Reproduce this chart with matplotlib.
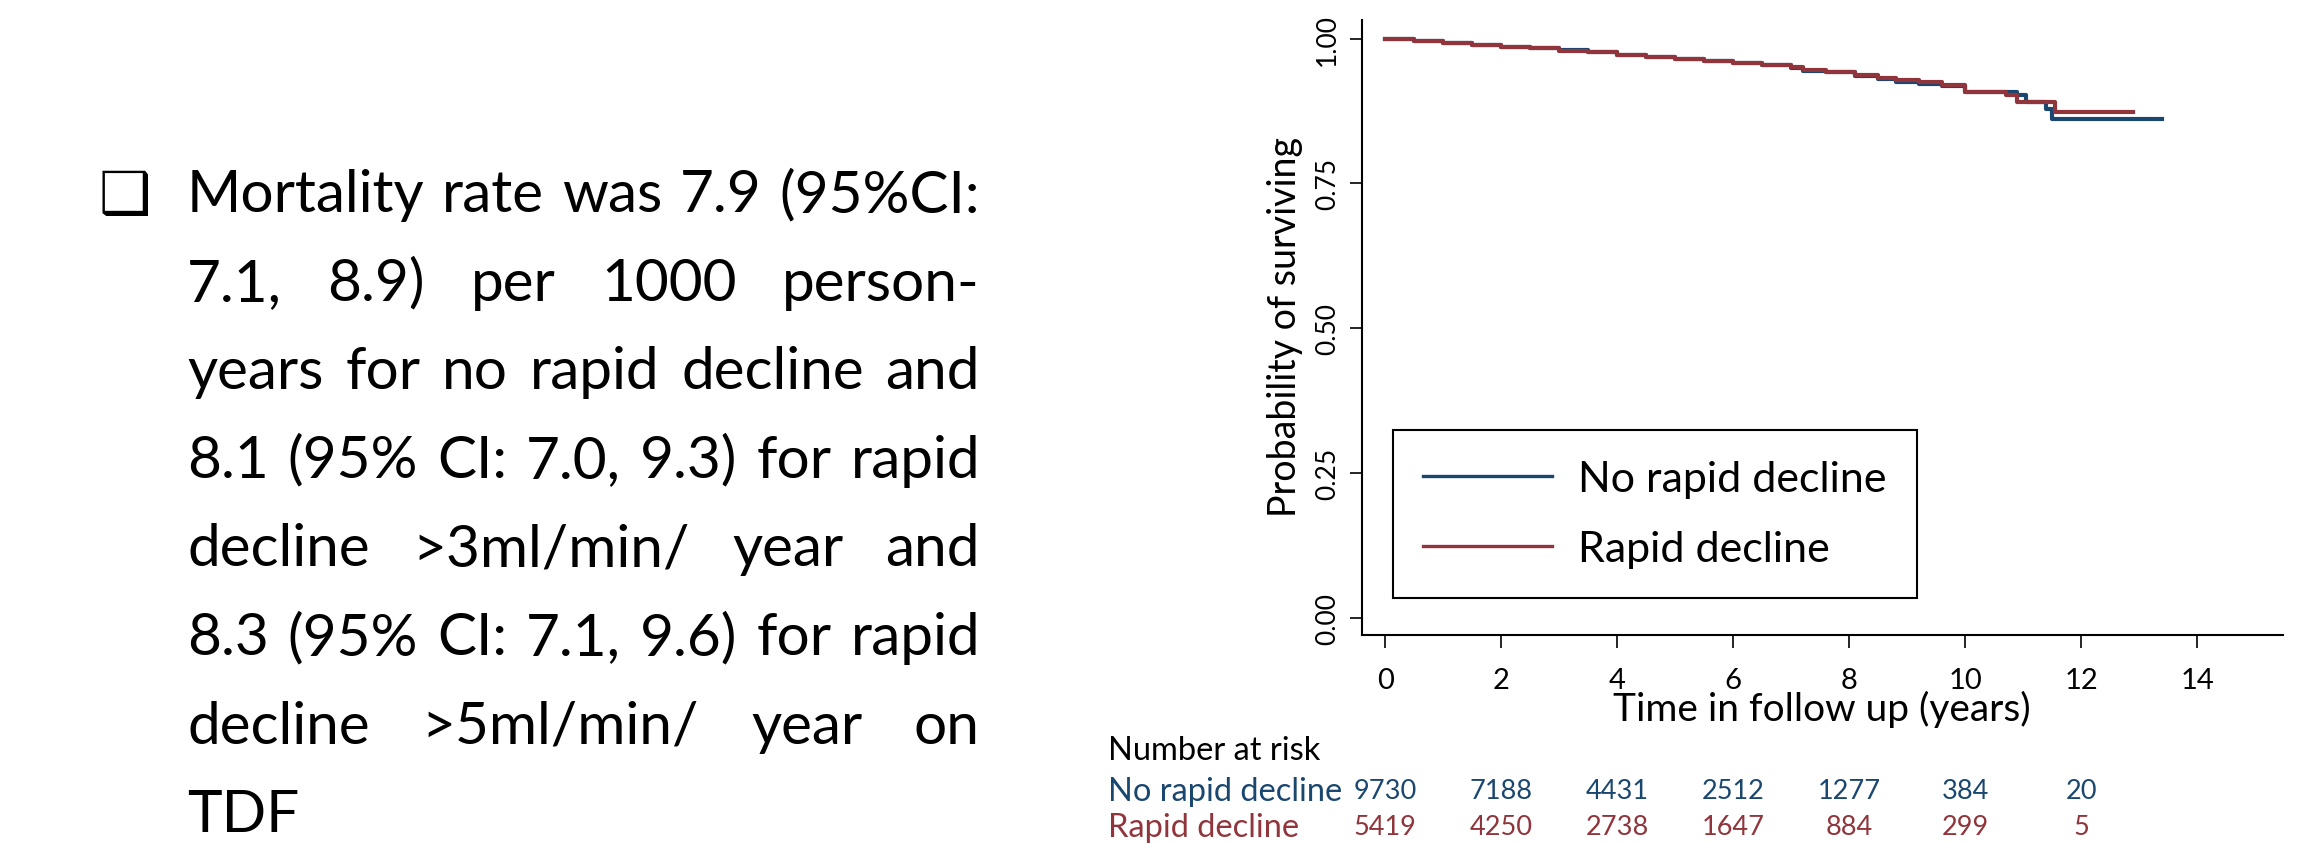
import matplotlib
matplotlib.use('Agg')
import matplotlib.pyplot as plt
from matplotlib.transforms import blended_transform_factory

plt.rcParams['font.family'] = ['Lato', 'DejaVu Sans']

# Kaplan-Meier steps (time in years, survival)
t_norapid = [0, 0.5, 1.0, 1.5, 2.0, 2.5, 3.0, 3.5, 4.0, 4.5, 5.0, 5.5, 6.0, 6.5,
             7.0, 7.2, 7.6, 8.1, 8.5, 8.8, 9.2, 9.6, 10.0, 10.9, 11.05, 11.4, 11.5, 13.4]
s_norapid = [1.000, 0.996, 0.992, 0.989, 0.986, 0.983, 0.980, 0.976, 0.972, 0.968, 0.964, 0.961, 0.958, 0.955,
             0.950, 0.944, 0.942, 0.935, 0.930, 0.925, 0.922, 0.918, 0.908, 0.903, 0.891, 0.878, 0.862, 0.862]
t_rapid = [0, 0.5, 1.0, 1.5, 2.0, 2.5, 3.0, 3.5, 4.0, 4.5, 5.0, 5.5, 6.0, 6.5,
           7.0, 7.2, 7.6, 8.1, 8.5, 8.8, 9.2, 9.6, 10.0, 10.7, 10.9, 11.55, 12.9]
s_rapid = [1.000, 0.996, 0.992, 0.989, 0.986, 0.983, 0.979, 0.976, 0.972, 0.968, 0.964, 0.961, 0.958, 0.955,
           0.951, 0.945, 0.943, 0.937, 0.932, 0.929, 0.925, 0.920, 0.908, 0.903, 0.891, 0.874, 0.874]

group_labels = ['No rapid decline', 'Rapid decline']
risk_times = [0, 2, 4, 6, 8, 10, 12]
risk_norapid = [9730, 7188, 4431, 2512, 1277, 384, 20]
risk_rapid = [5419, 4250, 2738, 1647, 884, 299, 5]

xticks = [0, 2, 4, 6, 8, 10, 12, 14]
yticks = [0.0, 0.25, 0.5, 0.75, 1.0]

body_lines = [
    'Mortality rate was 7.9 (95%CI:',
    '7.1, 8.9) per 1000 person-',
    'years for no rapid decline and',
    '8.1 (95% CI: 7.0, 9.3) for rapid',
    'decline >3ml/min/ year and',
    '8.3 (95% CI: 7.1, 9.6) for rapid',
    'decline >5ml/min/ year on',
    'TDF',
]

W, H = 2310, 845
BLUE = '#1a476f'
RED = '#90353b'


def fx(px):
    return px / W


def fy(py):
    return 1 - py / H


fig = plt.figure(figsize=(W / 100, H / 100), dpi=100)
renderer = fig.canvas.get_renderer()

# ---- survival plot ----
ax = fig.add_axes([fx(1362), fy(636), fx(2283) - fx(1362), fy(21) - fy(636)])
ax.step(t_norapid, s_norapid, where='post', color=BLUE, lw=3.0, label=group_labels[0])
ax.step(t_rapid, s_rapid, where='post', color=RED, lw=3.0, label=group_labels[1])
ax.set_xlim(-0.4, 15.48)
ax.set_ylim(-0.029, 1.032)
for side in ['top', 'right']:
    ax.spines[side].set_visible(False)
for side in ['left', 'bottom']:
    ax.spines[side].set_linewidth(1.5)
ax.set_xticks(xticks)
ax.set_xticklabels([str(v) for v in xticks], fontsize=21)
ax.set_yticks(yticks)
ax.set_yticklabels(['%.2f' % v for v in yticks], fontsize=19, rotation=90, va='center')
ax.tick_params(axis='both', direction='out', length=9, width=1.2, pad=7)
ax.tick_params(axis='x', pad=14)

fig.text(fx(1822), fy(709), 'Time in follow up (years)', fontsize=28, ha='center', va='center')
fig.text(fx(1285), fy(327), 'Probability of surviving', fontsize=27, rotation=90,
         ha='center', va='center')

leg = ax.legend(loc='upper left', bbox_to_anchor=(fx(1393), fy(431)), bbox_transform=fig.transFigure,
                fontsize=31, frameon=True, fancybox=False, framealpha=1, edgecolor='black',
                handlelength=3.0, handletextpad=0.6, borderpad=0.7, labelspacing=0.74,
                borderaxespad=0)
leg.get_frame().set_linewidth(1.5)
for line in leg.get_lines():
    line.set_linewidth(2.4)

# ---- number at risk table ----
tr = blended_transform_factory(ax.transData, fig.transFigure)
fig.text(fx(1108), fy(751), 'Number at risk', fontsize=23.5, ha='left', va='center')
fig.text(fx(1108), fy(792), group_labels[0], fontsize=23.5, ha='left', va='center', color=BLUE)
fig.text(fx(1108), fy(828), group_labels[1], fontsize=23.5, ha='left', va='center', color=RED)
for t, n1, n2 in zip(risk_times, risk_norapid, risk_rapid):
    ax.text(t, fy(792), str(n1), transform=tr, fontsize=19.5, ha='center', va='center', color=BLUE)
    ax.text(t, fy(828), str(n2), transform=tr, fontsize=19.5, ha='center', va='center', color=RED)

# ---- bullet text, justified ----
left_px, right_px = 187, 980
target = right_px - left_px


def width_px(s, size):
    t = fig.text(0, 0, s, fontsize=size)
    w = t.get_window_extent(renderer).width
    t.remove()
    return w


widest = max(width_px(s, 10) for s in body_lines)
body_size = 10 * target * 0.985 / widest

fig.text(fx(98), fy(196), '\u2751', fontsize=body_size * 1.0, family='DejaVu Sans',
         ha='left', va='center')

for i, line in enumerate(body_lines):
    base = 212 + i * 88.6
    words = line.split(' ')
    if i == len(body_lines) - 1 or len(words) == 1:
        fig.text(fx(left_px), fy(base), line, fontsize=body_size, ha='left', va='baseline')
        continue
    widths = [width_px(w, body_size) for w in words]
    gap = (target - sum(widths)) / (len(words) - 1)
    x = left_px
    for w, wd in zip(words, widths):
        fig.text(fx(x), fy(base), w, fontsize=body_size, ha='left', va='baseline')
        x += wd + gap

fig.savefig('out.png', dpi=100)
